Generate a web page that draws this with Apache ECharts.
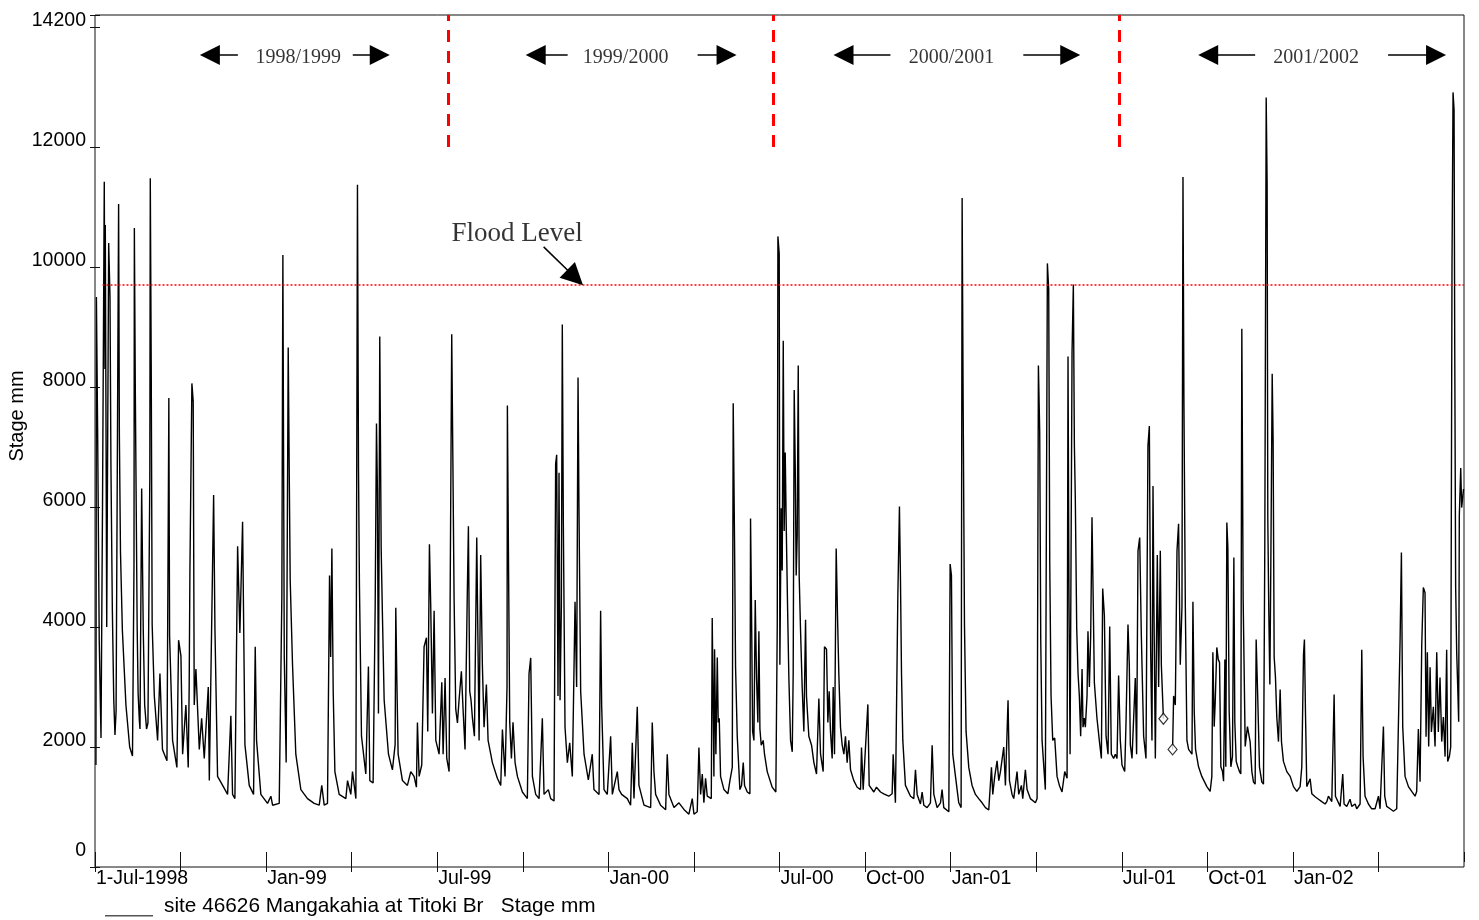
<!DOCTYPE html>
<html>
<head>
<meta charset="utf-8">
<script src="https://cdn.jsdelivr.net/npm/echarts@6/dist/echarts.min.js"></script>
<style>
html,body{margin:0;padding:0;background:#fff;}
#chart{width:1479px;height:920px;}
</style>
</head>
<body>
<div id="chart"></div>
<script>
// ---------- DATA (x = days since 1-Jul-1998, y = stage in mm) ----------
const seriesName = 'site 46626 Mangakahia at Titoki Br   Stage mm';
const axisTitle = 'Stage mm';

const xMaxDay = 1461;                 // 1-Jul-2002
const xTickInterval = 91.3125;        // quarter of a year
const xTickLabels = ['1-Jul-1998', '', 'Jan-99', '', 'Jul-99', '', 'Jan-00', '', 'Jul-00',
                     'Oct-00', 'Jan-01', '', 'Jul-01', 'Oct-01', 'Jan-02', '', ''];
const yMax = 14200;
const yTickInterval = 2000;
const yTickValues = [0, 2000, 4000, 6000, 8000, 10000, 12000, 14000];
const yTickLabels = ['0', '2000', '4000', '6000', '8000', '10000', '12000', '14200'];

const stage1998_99 = [
  [1.0,1700],[1.5,9500],[2.8,7300],[4.5,3800],[6.4,2150],[8.0,6000],[9.9,11420],[10.6,8300],[11.0,10700],
  [12.5,4000],[14.6,10400],[16.0,9500],[17.0,6700],[18.5,4300],[20.0,2800],[21.3,2200],[22.5,2600],
  [25.2,11050],[26.0,7200],[27.2,5250],[29.2,3950],[33.0,2700],[37.0,2000],[40.0,1850],[41.6,5000],
  [42.0,10650],[43.0,8000],[45.0,4000],[46.0,2900],[47.3,2450],[48.0,2300],[49.8,6310],[51.5,3950],
  [53.0,2700],[55.0,2300],[56.5,2400],[58.5,6500],[59.0,11480],[60.0,8360],[61.0,4040],[63.3,2850],
  [66.8,2110],[69.3,3225],[72.0,1960],[76.8,1770],[78.5,6800],[78.8,7815],[79.6,3860],[82.8,2110],
  [87.4,1660],[89.2,3780],[91.7,3520],[93.5,1880],[97.0,2700],[99.5,1660],[100.5,3000],[101.3,4940],
  [103.4,8060],[104.8,7760],[105.9,2700],[107.7,3300],[111.3,1960],[113.8,2480],[116.6,1810],[120.9,3000],
  [122.0,1440],[126.6,6200],[128.0,3970],[130.8,1510],[136.2,1360],[141.5,1210],[145.0,2520],[146.8,1210],
  [149.3,1140],[152.2,5345],[154.6,3900],[156.1,4860],[157.5,5755],[160.0,2040],[164.6,1360],[169.2,1210],
  [171.0,3670],[172.4,2110],[177.0,1210],[184.1,1060],[187.7,1180],[189.5,1030],[196.6,1060],[199.4,4490],
  [200.5,10200],[202.0,3500],[204.0,1740],[206.2,8660],[207.3,6570],[208.3,4790],[210.8,3370],[214.3,1880],
  [219.7,1290],[226.8,1140],[233.9,1060],[239.3,1030],[242.0,1360],[244.6,1030],[248.1,1060],[250.3,4860],
  [251.5,3500],[252.8,5310],[254.2,2930],[256.0,1590],[260.6,1210],[267.7,1140],[269.5,1440],[273.0,1210],
  [274.8,1590],[278.4,1140],[280.1,11370],[281.2,6650],[282.2,4710],[284.4,2180],[289.0,1550],[291.8,3340],
  [293.3,1440],[296.8,1400],[299.0,4340],[300.4,7390],[301.4,6270],[302.5,2560],[303.9,8840],[305.4,5310],
  [306.8,4150],[308.6,2780],[310.3,2800],[313.2,1880],[317.4,1620],[320.3,2040],[321.0,4320],[322.1,3150],
  [323.5,1880],[328.1,1440],[333.4,1360],[337.0,1590],[340.5,1510],[343.0,1330],[344.1,2410],[345.9,1510],
  [348.7,1700],[351.2,3670],[353.7,3820],[355.1,2260],[356.9,5380],[358.3,4340],[360.1,2560],[361.9,4270],
  [363.7,2110]
];
const stage1999_00 = [
  [367.2,1880],[370.1,3080],[371.5,1880],[373.6,3150],[375.4,1810],[377.9,1590],[380.7,8880],[382.1,6460],
  [383.2,4490],[385.0,2630],[386.8,2400],[388.5,2780],[391.0,3260],[392.8,2630],[394.9,1960],[397.4,4640],
  [398.5,5680],[399.9,2930],[401.3,2780],[402.8,2480],[404.9,2180],[407.4,5490],[408.8,3600],[409.9,2110],
  [411.6,5200],[413.4,3370],[415.2,2330],[417.7,3040],[419.5,2110],[424.1,1740],[429.4,1480],[433.0,1360],
  [434.8,2290],[437.6,1510],[439.7,3000],[440.1,7690],[441.2,5310],[442.6,2410],[444.4,1810],[446.1,2410],
  [448.3,1740],[450.8,1510],[456.1,1250],[461.4,1140],[463.2,3225],[465.0,3485],[466.8,1510],[470.3,1210],
  [473.9,1140],[477.4,2480],[479.2,1210],[483.8,1290],[486.3,1140],[489.9,1100],[491.6,6720],[492.7,6870],
  [494.1,2850],[495.2,6570],[496.3,2780],[497.7,4340],[498.7,9040],[499.8,5755],[501.6,2330],[504.1,1740],
  [506.6,2070],[509.4,1510],[512.3,4420],[514.0,3000],[515.5,8160],[516.5,5980],[518.3,2930],[521.9,1880],
  [526.5,1450],[530.7,1880],[532.5,1290],[537.9,1210],[539.6,4270],[540.7,2700],[543.2,1290],[546.7,1210],
  [550.3,2180],[552.1,1210],[557.4,1590],[559.2,1290],[562.0,1210],[568.1,1140],[571.6,1030],[573.4,2070],
  [575.2,1140],[578.7,2670],[580.5,1360],[584.1,1140],[585.9,1030],[593.0,990],[594.7,2410],[596.5,1590],
  [598.3,1210],[603.6,1030],[609.0,955],[610.7,1880],[612.5,1210],[617.9,990],[623.2,1070],[628.5,960],
  [633.8,880],[637.4,1140],[639.2,880],[642.7,920],[644.5,1990],[646.3,1210],[648.1,1550],[649.8,1070],
  [651.6,1480],[653.4,1180],[657.7,1140],[658.7,4150],[660.5,1510],[661.2,3630],[662.6,1880],[664.1,3490],
  [665.1,2410],[666.2,2480],[667.6,1510],[671.2,1290],[675.4,1220],[677.6,1440],[680.1,1660],[681.1,7730],
  [682.5,5460],[683.6,3340],[685.4,2180],[688.2,1290],[690.0,1360],[691.8,1740],[693.2,1360],[696.1,1250],
  [698.9,1220],[699.6,5810],[700.7,4190],[701.8,2260],[703.2,2110],[704.6,4450],[706.0,3150],[707.4,2410],
  [708.5,3930],[709.6,2300],[711.0,2030],[713.1,2110],[714.5,1880],[717.4,1590],[722.7,1330],[726.6,1250],
  [728.1,4040],[728.8,10510],[730.2,10220]
];
const stage2000_01 = [
  [730.9,3370],[732.3,5980],[733.4,4940],[734.5,8770],[735.5,5600],[736.6,6910],[737.7,5680],[739.1,4340],
  [740.5,3150],[742.3,2110],[744.1,1920],[745.1,3225],[746.2,7950],[747.3,6650],[748.3,4860],[749.4,5530],
  [750.5,8360],[751.5,4860],[752.9,3970],[754.7,3000],[756.5,2260],[758.3,4120],[759.3,2850],[761.8,2180],
  [764.7,2030],[767.2,1740],[770.0,1550],[772.5,2810],[774.3,1880],[777.1,1590],[778.5,3670],[780.7,3630],
  [782.1,2410],[783.5,2930],[784.9,2260],[786.7,1810],[787.8,3000],[789.2,1880],[791.0,5310],[792.4,4190],
  [793.8,3225],[795.6,2330],[797.4,2030],[799.2,1880],[800.9,2180],[802.7,1740],[804.5,2110],[806.3,1620],
  [809.8,1440],[813.4,1330],[817.0,1290],[818.0,1990],[819.8,1290],[824.8,2710],[826.2,1360],[831.2,1250],
  [834.0,1330],[838.3,1250],[841.8,1220],[847.1,1180],[850.7,1220],[851.8,1880],[854.2,1070],[856.8,4530],
  [858.5,6010],[859.6,4790],[860.7,3225],[862.1,2110],[864.9,1360],[870.3,1180],[873.8,1140],[875.6,1620],
  [877.4,1210],[880.9,1050],[882.7,1250],[884.5,1030],[888.0,990],[891.6,1070],[893.4,2030],[895.2,1210],
  [898.7,990],[902.3,1070],[904.0,1290],[905.8,990],[911.2,920],[912.6,5050],[914.0,4860],[915.4,1880],
  [918.3,1510],[921.8,1070],[924.3,990],[925.4,11150],[926.4,7990],[927.9,4040],[929.6,2260],[932.5,1660],
  [936.0,1360],[939.6,1210],[943.1,1140],[946.7,1070],[950.3,990],[953.8,950],[956.7,1660],[958.1,1210],
  [960.2,1510],[962.7,1770],[964.5,1440],[966.3,1590],[969.8,2000],[971.6,1360],[974.4,2780],[975.9,1440],
  [978.7,1210],[980.5,1140],[984.0,1590],[985.8,1210],[988.7,1360],[990.1,1140],[992.9,1620],[994.7,1290],
  [998.2,1140],[1003.6,1070],[1005.4,1140],[1006.8,8360],[1008.2,7240],[1009.3,3780],[1010.7,2110],
  [1014.2,1290],[1016.4,10060],[1017.8,9620],[1018.9,5085],[1020.3,2850],[1022.1,2110],[1024.2,2150],
  [1026.7,1510],[1029.2,1360],[1032.0,1250],[1034.9,1590],[1037.4,1480],[1038.4,8510],[1039.5,4340],
  [1040.6,1880],[1042.7,8580],[1044.1,9710],[1045.2,7020],[1046.2,6130],[1047.7,3970],[1049.1,3225],
  [1050.5,2850],[1051.9,2180],[1053.4,3300],[1054.4,2330],[1055.8,2480],[1056.9,2330],[1058.7,2850],
  [1059.7,3930],[1061.2,3000],[1062.6,3860],[1064.0,5830],[1065.4,4340],[1066.5,3080],[1069.3,2480],
  [1071.8,2110],[1074.0,1810],[1075.4,4640],[1077.2,4190],[1079.0,2180],[1081.1,1880],[1082.9,4010],
  [1084.6,1880],[1087.1,1810],[1088.9,1880],[1090.7,1810],[1092.4,3190],[1094.2,2110]
];
const stage2001_02 = [
  [1096.0,1700],[1098.9,1590],[1100.3,2410],[1102.4,4040],[1103.8,3370],[1104.9,2040],[1106.7,1810],
  [1110.2,3150],[1111.6,1880],[1113.1,5270],[1114.9,5490],[1116.6,3890],[1119.1,2180],[1121.6,1810],
  [1123.7,7020],[1125.2,7350],[1126.6,3600],[1128.0,2110],[1129.1,6350],[1130.1,4340],[1131.6,1810],
  [1133.7,5200],[1135.1,3000],[1136.9,5270],[1138.0,3370],[1140.2,2470],[1145.0,null],[1150.0,1960],
  [1151.1,2850],[1152.9,2700],[1154.7,5270],[1156.4,5720],[1158.2,3370],[1160.0,4340],[1161.1,11500],
  [1162.1,7760],[1163.6,4340],[1165.3,2110],[1167.1,1960],[1170.7,1880],[1171.7,4420],[1173.1,2590],
  [1174.5,1960],[1177.7,1670],[1181.2,1510],[1186.6,1340],[1190.1,1260],[1191.9,1510],[1193.0,3580],
  [1194.4,2340],[1195.5,2750],[1197.2,3660],[1198.7,3460],[1200.1,3410],[1201.5,1670],[1203.3,1590],
  [1204.4,1430],[1205.8,3460],[1206.8,1670],[1207.9,5740],[1209.0,5320],[1210.4,2590],[1212.2,1670],
  [1213.9,1840],[1215.4,5160],[1216.4,2420],[1217.9,1760],[1219.6,1670],[1221.4,1590],[1222.8,1550],
  [1223.9,8970],[1225.3,4490],[1227.5,2010],[1229.9,2340],[1231.4,2340],[1232.8,2080],[1234.6,1590],
  [1236.3,1420],[1238.1,1380],[1239.2,3790],[1241.0,2750],[1242.7,1670],[1245.2,1420],[1247.0,1380],
  [1248.4,5320],[1249.9,12824],[1250.9,11370],[1251.6,5820],[1252.7,4240],[1253.8,3040],[1254.8,4950],
  [1256.3,8220],[1257.3,7100],[1258.4,3500],[1259.8,3160],[1261.2,2500],[1263.0,2090],[1264.8,2960],
  [1266.2,2090],[1268.3,1760],[1271.9,1590],[1275.5,1510],[1279.0,1340],[1282.6,1260],[1286.1,1340],
  [1287.9,1670],[1289.7,3540],[1290.7,3790],[1291.8,2590],[1293.2,1340],[1296.8,1470],[1298.6,1220],
  [1302.1,1170],[1305.7,1130],[1309.2,1090],[1312.8,1050],[1314.6,1090],[1316.3,1180],[1319.9,1090],
  [1322.4,2875],[1323.8,1180],[1328.8,1010],[1331.6,1550],[1333.0,1050],[1335.9,1010],[1339.4,1130],
  [1341.2,1010],[1344.8,1050],[1346.5,970],[1350.1,1050],[1351.9,3620],[1353.3,1840],[1355.4,1180],
  [1359.0,1050],[1362.5,970],[1366.1,970],[1369.7,1180],[1371.4,970],[1375.0,2340],[1376.4,1180],
  [1378.5,1010],[1382.1,970],[1385.7,930],[1389.2,970],[1392.8,3790],[1394.2,5240],[1395.6,2340],
  [1398.1,1510],[1401.7,1340],[1405.2,1260],[1408.8,1180],[1410.5,1260],[1412.3,2300],[1414.1,1420],
  [1415.9,3700],[1417.6,4660],[1419.4,4570],[1420.5,2170],[1421.9,3580],[1423.3,2010],[1424.8,3330],
  [1426.2,2250],[1428.3,2670],[1430.1,2010],[1431.9,3580],[1433.6,2250],[1435.4,3160],[1437.2,2090],
  [1439.0,2500],[1440.8,1840],[1442.5,3620],[1443.6,1760],[1445.4,1840],[1446.8,2000],[1448.2,10040],
  [1449.3,12910],[1450.4,12620],[1451.1,8720],[1452.1,4660],[1453.2,3580],[1454.3,3000],[1455.3,2420],
  [1456.0,5860],[1457.5,6650],[1458.5,5990],[1460.5,6300]
];

// gap-end markers (diamonds)
const markerDays = [1140.2, 1150.0];
const markerValues = [2470, 1960];

// annotations
const floodLevel = 9700;
const floodLineStartDay = 8;
const floodLabel = 'Flood Level';
const floodLabelPos = [450.4, 10554];
const floodArrow = [[478.8, 10335], [512.4, 9825]];

const seasonDividerDays = [377.2, 724.1, 1093.1];
const seasonDividerRange = [12000, 14200];
const seasonNames = ['1998/1999', '1999/2000', '2000/2001', '2001/2002'];
const seasonLabelDays = [217.0, 566.3, 914.0, 1303.2];
const seasonLabelValue = 13493;
const seasonArrowValue = 13533;
const seasonArrowsLeft = [[152.5, 122.6], [504.4, 470.3], [848.9, 798.8], [1238.1, 1188.0]];
const seasonArrowsRight = [[275.1, 303.9], [643.1, 674.0], [990.7, 1040.8], [1380.0, 1431.2]];

// ---------- CHART ----------
const stageData = stage1998_99.concat(stage1999_00, stage2000_01, stage2001_02)
  .map(p => [p[0], p[1] === null ? '-' : p[1]]);

const SANS = "'Liberation Sans', Arial, sans-serif";
const SERIF = "'Liberation Serif', 'Times New Roman', serif";

const arrowLines = [];
seasonArrowsLeft.concat(seasonArrowsRight).forEach(a => {
  arrowLines.push([{ coord: [a[0], seasonArrowValue] }, { coord: [a[1], seasonArrowValue] }]);
});

const chart = echarts.init(document.getElementById('chart'), null, { renderer: 'canvas' });
chart.setOption({
  animation: false,
  backgroundColor: '#ffffff',
  grid: { left: 95, right: 15, top: 15, bottom: 53, show: true, borderColor: '#111', borderWidth: 1, backgroundColor: 'transparent' },
  legend: {
    left: 105, top: 896, padding: 0, itemWidth: 48, itemHeight: 20, selectedMode: false,
    icon: 'path://M0,0L0.01,0L0,0.01Z M0,18.5L48,18.5L48,20L0,20Z',
    itemStyle: { color: '#555', borderWidth: 0 },
    textStyle: { fontFamily: SANS, fontSize: 20.8, color: '#000', padding: [0, 0, 0, 6] },
    data: [{ name: seriesName }]
  },
  graphic: [{
    type: 'text', x: 17.5, y: 416, rotation: Math.PI / 2,
    style: { text: axisTitle, font: '20px ' + SANS, fill: '#000', align: 'center', verticalAlign: 'middle' }
  }],
  xAxis: [{
    type: 'value', position: 'bottom', min: 0, max: xMaxDay, interval: xTickInterval, offset: -5,
    axisLine: { show: false },
    axisTick: { show: true, length: 10, lineStyle: { color: '#111', width: 1 } },
    splitLine: { show: false },
    axisLabel: {
      show: true, margin: 7, align: 'left', padding: [0, 0, 0, 1],
      fontFamily: SANS, fontSize: 19.5, color: '#000', showMaxLabel: false,
      formatter: v => xTickLabels[Math.round(v / xTickInterval)] || ''
    }
  }, {
    type: 'value', position: 'top', min: 0, max: xMaxDay, interval: xTickInterval, offset: -5,
    axisLine: { show: false },
    axisTick: { show: true, length: 10, lineStyle: { color: '#111', width: 1 } },
    splitLine: { show: false }, axisLabel: { show: false }
  }],
  yAxis: [{
    type: 'value', position: 'left', min: 0, max: yMax, interval: yTickInterval, offset: -5,
    axisLine: { show: false },
    axisTick: { show: true, length: 10, lineStyle: { color: '#111', width: 1 } },
    splitLine: { show: false },
    axisLabel: {
      show: true, margin: 14, fontFamily: SANS, fontSize: 19.5, color: '#000',
      verticalAlign: 'middle', padding: [0, 0, 12, 0],
      formatter: v => {
        const i = yTickValues.indexOf(v);
        if (i < 0) return '';
        return v === 0 ? '{z|' + yTickLabels[i] + '}' : yTickLabels[i];
      },
      rich: { z: { fontFamily: SANS, fontSize: 19.5, color: '#000', padding: [0, 0, 20, 0] } }
    }
  }, {
    type: 'value', position: 'right', min: 0, max: yMax, interval: yTickInterval,
    axisLine: { show: false },
    axisTick: { show: true, inside: true, length: 5, lineStyle: { color: '#111', width: 1 } },
    splitLine: { show: false }, axisLabel: { show: false }
  }],
  series: [{
    name: seriesName, type: 'line', data: stageData, xAxisIndex: 0, yAxisIndex: 0,
    showSymbol: false, symbol: 'none', connectNulls: false, clip: true,
    lineStyle: { color: '#000', width: 1.4 }, itemStyle: { color: '#000' }, z: 3
  }, {
    name: 'gap markers', type: 'scatter', xAxisIndex: 0, yAxisIndex: 0,
    data: markerDays.map((d, i) => [d, markerValues[i]]),
    symbol: 'diamond', symbolSize: [9, 11],
    itemStyle: { color: '#fff', borderColor: '#000', borderWidth: 1.2 }, z: 4, silent: true
  }, {
    name: 'flood', type: 'line', data: [], xAxisIndex: 0, yAxisIndex: 0,
    markLine: {
      silent: true, symbol: ['none', 'none'], label: { show: false },
      lineStyle: { color: '#ff0000', type: [2, 2], width: 1.5 },
      data: [[{ coord: [floodLineStartDay, floodLevel] }, { coord: [xMaxDay, floodLevel] }]]
    }
  }, {
    name: 'dividers', type: 'line', data: [], xAxisIndex: 0, yAxisIndex: 0,
    markLine: {
      silent: true, symbol: ['none', 'none'], label: { show: false },
      lineStyle: { color: '#ff0000', type: [12, 9], width: 3 },
      data: seasonDividerDays.map(d => [{ coord: [d, seasonDividerRange[0]] }, { coord: [d, seasonDividerRange[1]] }])
    }
  }, {
    name: 'arrows', type: 'line', data: [], xAxisIndex: 0, yAxisIndex: 0,
    markLine: {
      silent: true, symbol: ['none', 'triangle'], symbolSize: 20, label: { show: false },
      lineStyle: { color: '#000', type: 'solid', width: 1.5 }, itemStyle: { color: '#000' },
      data: arrowLines.concat([[
        { coord: floodArrow[0] }, { coord: floodArrow[1], symbolSize: 22 }
      ]])
    }
  }, {
    name: 'labels', type: 'scatter', xAxisIndex: 0, yAxisIndex: 0, symbolSize: 0, silent: true,
    data: seasonNames.map((n, i) => ({ value: [seasonLabelDays[i], seasonLabelValue], name: n,
      label: { fontFamily: SERIF, fontSize: 20 } }))
      .concat([{ value: floodLabelPos, name: floodLabel, label: { fontFamily: SERIF, fontSize: 27 } }]),
    label: { show: true, position: 'inside', color: '#000', formatter: p => p.name }
  }]
});
</script>
</body>
</html>
